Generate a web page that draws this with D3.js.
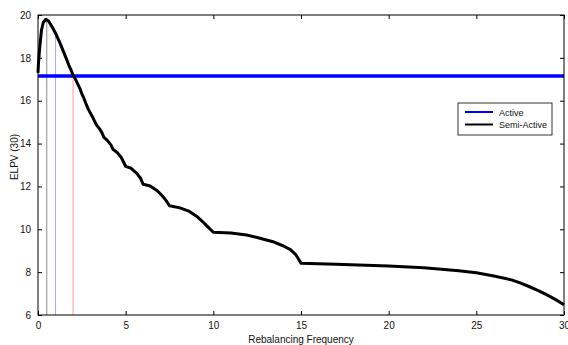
<!DOCTYPE html>
<html>
<head>
<meta charset="utf-8">
<script src="https://cdn.jsdelivr.net/npm/d3@7"></script>
<style>
  body { margin: 0; background: #fff; }
  text { font-family: "Liberation Sans", Arial, sans-serif; fill: #111; }
</style>
</head>
<body>
<div id="chart"></div>
<script>
// rebalancing frequency (x) and ELPV for the semi-active strategy
const freq = [0, 0.03, 0.1, 0.2, 0.3, 0.45, 0.6, 0.8, 1.0, 1.25, 1.5, 1.67, 1.76, 1.875, 2.0,
  2.14, 2.31, 2.4, 2.5, 2.6, 2.727, 2.86, 3.0, 3.15, 3.333, 3.5, 3.65, 3.75, 3.95, 4.15, 4.286,
  4.5, 4.75, 5.0, 5.3, 5.63, 5.85, 6.0, 6.4, 6.8, 7.1, 7.3, 7.5, 8.1, 8.6, 9.06, 9.4, 9.7, 10.0,
  11, 11.9, 12.5, 13.4, 14, 14.4, 14.7, 15, 17, 20, 22, 24, 25, 26, 27, 27.5, 28, 28.5, 29, 29.5, 30];
const semiActive = [17.3, 17.8, 18.5, 19.3, 19.65, 19.8, 19.72, 19.45, 19.15, 18.7, 18.2, 17.85, 17.65, 17.45, 17.2,
  17.0, 16.7, 16.55, 16.32, 16.15, 15.88, 15.62, 15.4, 15.18, 14.87, 14.7, 14.5, 14.3, 14.15, 13.95, 13.72,
  13.6, 13.35, 12.94, 12.85, 12.61, 12.38, 12.1, 12.02, 11.8, 11.55, 11.35, 11.1, 11.0, 10.85, 10.6, 10.35, 10.1, 9.86,
  9.83, 9.73, 9.62, 9.42, 9.22, 9.05, 8.82, 8.42, 8.37, 8.29, 8.2, 8.06, 7.97, 7.82, 7.64, 7.5, 7.33, 7.15, 6.95, 6.73, 6.48];
const activeValue = 17.15;

// marker lines: frequency, top value, colour
const markerFreq = [0.5, 1.0, 2.0];
const markerTop = [19.8, 19.15, 17.2];
const markerColor = ["#8c8c8c", "#a8a8ff", "#ff9c9c"];

const xTicks = [0, 5, 10, 15, 20, 25, 30];
const yTicks = [6, 8, 10, 12, 14, 16, 18, 20];
const legendNames = ["Active", "Semi-Active"];
const legendColors = ["#0000ff", "#000000"];

const width = 568, height = 345;
const margin = { top: 15, right: 4, bottom: 30, left: 38 };
const innerW = width - margin.left - margin.right;
const innerH = height - margin.top - margin.bottom;

const svg = d3.select("#chart").append("svg")
  .attr("width", width)
  .attr("height", height);

const x = d3.scaleLinear().domain([0, 30]).range([margin.left, margin.left + innerW]);
const y = d3.scaleLinear().domain([6, 20]).range([margin.top + innerH, margin.top]);

// axes with inward ticks (all four sides)
const tickLen = 4;
svg.append("g")
  .attr("transform", `translate(0,${margin.top + innerH})`)
  .call(d3.axisBottom(x).tickValues(xTicks).tickSizeInner(-tickLen).tickSizeOuter(0).tickPadding(7))
  .call(g => g.select(".domain").remove())
  .call(g => g.selectAll("text").attr("font-size", 10));
svg.append("g")
  .attr("transform", `translate(0,${margin.top})`)
  .call(d3.axisTop(x).tickValues(xTicks).tickSizeInner(-tickLen).tickSizeOuter(0).tickFormat(""))
  .call(g => g.select(".domain").remove());
svg.append("g")
  .attr("transform", `translate(${margin.left},0)`)
  .call(d3.axisLeft(y).tickValues(yTicks).tickSizeInner(-tickLen).tickSizeOuter(0).tickPadding(7))
  .call(g => g.select(".domain").remove())
  .call(g => g.selectAll("text").attr("font-size", 10));
svg.append("g")
  .attr("transform", `translate(${margin.left + innerW},0)`)
  .call(d3.axisRight(y).tickValues(yTicks).tickSizeInner(-tickLen).tickSizeOuter(0).tickFormat(""))
  .call(g => g.select(".domain").remove());

// marker verticals
svg.append("g").selectAll("line")
  .data(markerFreq)
  .join("line")
  .attr("x1", d => x(d)).attr("x2", d => x(d))
  .attr("y1", y(6))
  .attr("y2", (d, i) => y(markerTop[i]))
  .attr("stroke", (d, i) => markerColor[i])
  .attr("stroke-width", 1);

// active line
svg.append("line")
  .attr("x1", x(0)).attr("x2", x(30))
  .attr("y1", y(activeValue)).attr("y2", y(activeValue))
  .attr("stroke", "#0000ff")
  .attr("stroke-width", 3.5);

// semi-active curve
const line = d3.line()
  .x((d, i) => x(freq[i]))
  .y(d => y(d));
svg.append("path")
  .datum(semiActive)
  .attr("d", line)
  .attr("fill", "none")
  .attr("stroke", "#000")
  .attr("stroke-width", 3)
  .attr("stroke-linejoin", "round");

// frame
svg.append("rect")
  .attr("x", margin.left).attr("y", margin.top)
  .attr("width", innerW).attr("height", innerH)
  .attr("fill", "none")
  .attr("stroke", "#000")
  .attr("stroke-width", 1);

// axis labels
svg.append("text")
  .attr("x", x(15)).attr("y", 343)
  .attr("text-anchor", "middle")
  .attr("font-size", 10)
  .text("Rebalancing Frequency");
svg.append("text")
  .attr("transform", `translate(18,157) rotate(-90)`)
  .attr("text-anchor", "middle")
  .attr("font-size", 10)
  .text("ELPV (30)");

// legend
const legend = svg.append("g").attr("transform", "translate(458,103)");
legend.append("rect")
  .attr("width", 94).attr("height", 32)
  .attr("fill", "#fff")
  .attr("stroke", "#000")
  .attr("stroke-width", 0.8);
const item = legend.selectAll("g.item")
  .data(legendNames)
  .join("g")
  .attr("class", "item")
  .attr("transform", (d, i) => `translate(0,${9 + i * 12.5})`);
item.append("line")
  .attr("x1", 7).attr("x2", 35)
  .attr("stroke", (d, i) => legendColors[i])
  .attr("stroke-width", 2);
item.append("text")
  .attr("x", 41).attr("y", 3.5)
  .attr("font-size", 9)
  .text(d => d);
</script>
</body>
</html>
